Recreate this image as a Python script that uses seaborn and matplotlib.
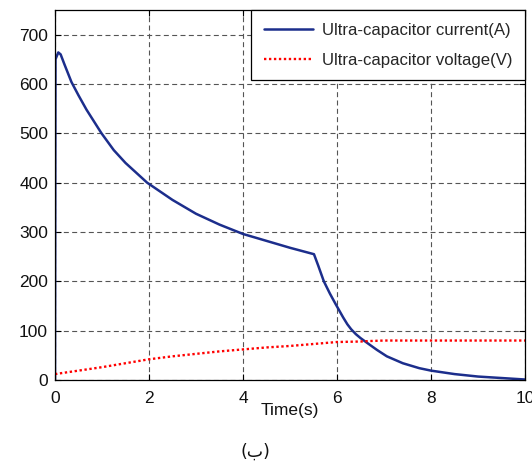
import numpy as np
import pandas as pd
import matplotlib
matplotlib.use("Agg")
import matplotlib.pyplot as plt
import seaborn as sns

# Ultra-capacitor current (A)
t_current = [0.0, 0.01, 0.07, 0.12, 0.2, 0.35, 0.5, 0.67, 0.99, 1.25, 1.5, 1.96, 2.5, 3.0, 3.5,
             4.0, 4.5, 5.0, 5.51, 5.6, 5.72, 5.85, 5.97, 6.13, 6.22, 6.3, 6.4, 6.5, 6.63, 6.85,
             7.06, 7.4, 7.75, 8.0, 8.5, 9.0, 9.5, 10.0]
current = [0, 650, 664, 660, 640, 604, 577, 548, 500, 466, 440, 400, 365, 337, 315,
           296, 282, 268, 255, 232, 200, 175, 154, 127, 113, 103, 93, 85, 76, 61,
           48, 34, 24, 19, 12, 7, 4, 1]

# Ultra-capacitor voltage (V)
t_voltage = [0.0, 0.5, 1.0, 1.5, 2.0, 2.5, 3.0, 3.5, 4.0, 4.5, 5.0, 5.5, 6.0, 6.5, 6.7, 7.0, 8.0, 9.0, 10.0]
voltage = [12, 19, 26, 34, 42, 48, 53, 58, 62, 66, 69, 73, 77, 78, 79, 80, 80, 80, 80]

x_ticks = [0, 2, 4, 6, 8, 10]
y_ticks = [0, 100, 200, 300, 400, 500, 600, 700]
labels = ["Ultra-capacitor current(A)", "Ultra-capacitor voltage(V)"]

sns.set_theme(style="white")
plt.rcParams["font.family"] = ["Liberation Sans", "DejaVu Sans"]

FS = 12.5
fig = plt.figure(figsize=(5.32, 4.61), dpi=100)
ax = fig.add_axes([55 / 532, (461 - 380) / 461, (525 - 55) / 532, (380 - 10) / 461])

df_i = pd.DataFrame({"t": t_current, "v": current})
df_v = pd.DataFrame({"t": t_voltage, "v": voltage})

sns.lineplot(data=df_i, x="t", y="v", ax=ax, color="#1c2e8c", lw=1.8, label=labels[0])
sns.lineplot(data=df_v, x="t", y="v", ax=ax, color="#ff0000", lw=1.7,
             linestyle=(0, (1, 1.1)), label=labels[1])

ax.set_xlim(0, 10)
ax.set_ylim(0, 750)
ax.set_xticks(x_ticks)
ax.set_yticks(y_ticks)
ax.set_xticklabels([str(v) for v in x_ticks])
ax.set_yticklabels([str(v) for v in y_ticks])
ax.tick_params(direction="in", length=4, width=0.8, color="black", labelsize=FS,
               top=True, right=True, bottom=True, left=True, labelcolor="#111111")
ax.tick_params(axis="x", pad=8)
ax.tick_params(axis="y", pad=5)

ax.grid(True, linestyle=(0, (4.5, 3)), color="#555555", lw=0.8)
for s in ax.spines.values():
    s.set_color("black")
    s.set_linewidth(0.9)

ax.set_ylabel("")
ax.set_xlabel("Time(s)", fontsize=FS, color="#111111")
ax.xaxis.set_label_coords(0.5, -0.062)

leg = ax.legend(loc="upper right", borderaxespad=0, fontsize=12.1, frameon=True,
                fancybox=False, edgecolor="black", framealpha=1,
                handlelength=2.9, handletextpad=0.55, labelspacing=0.9, borderpad=0.75)
leg.get_frame().set_linewidth(0.9)

fig.text(255 / 532, (461 - 452) / 461, "(ب)", ha="center", va="center",
         fontsize=FS, family=["DejaVu Sans"], color="#111111")

fig.savefig("out.png", dpi=100)
